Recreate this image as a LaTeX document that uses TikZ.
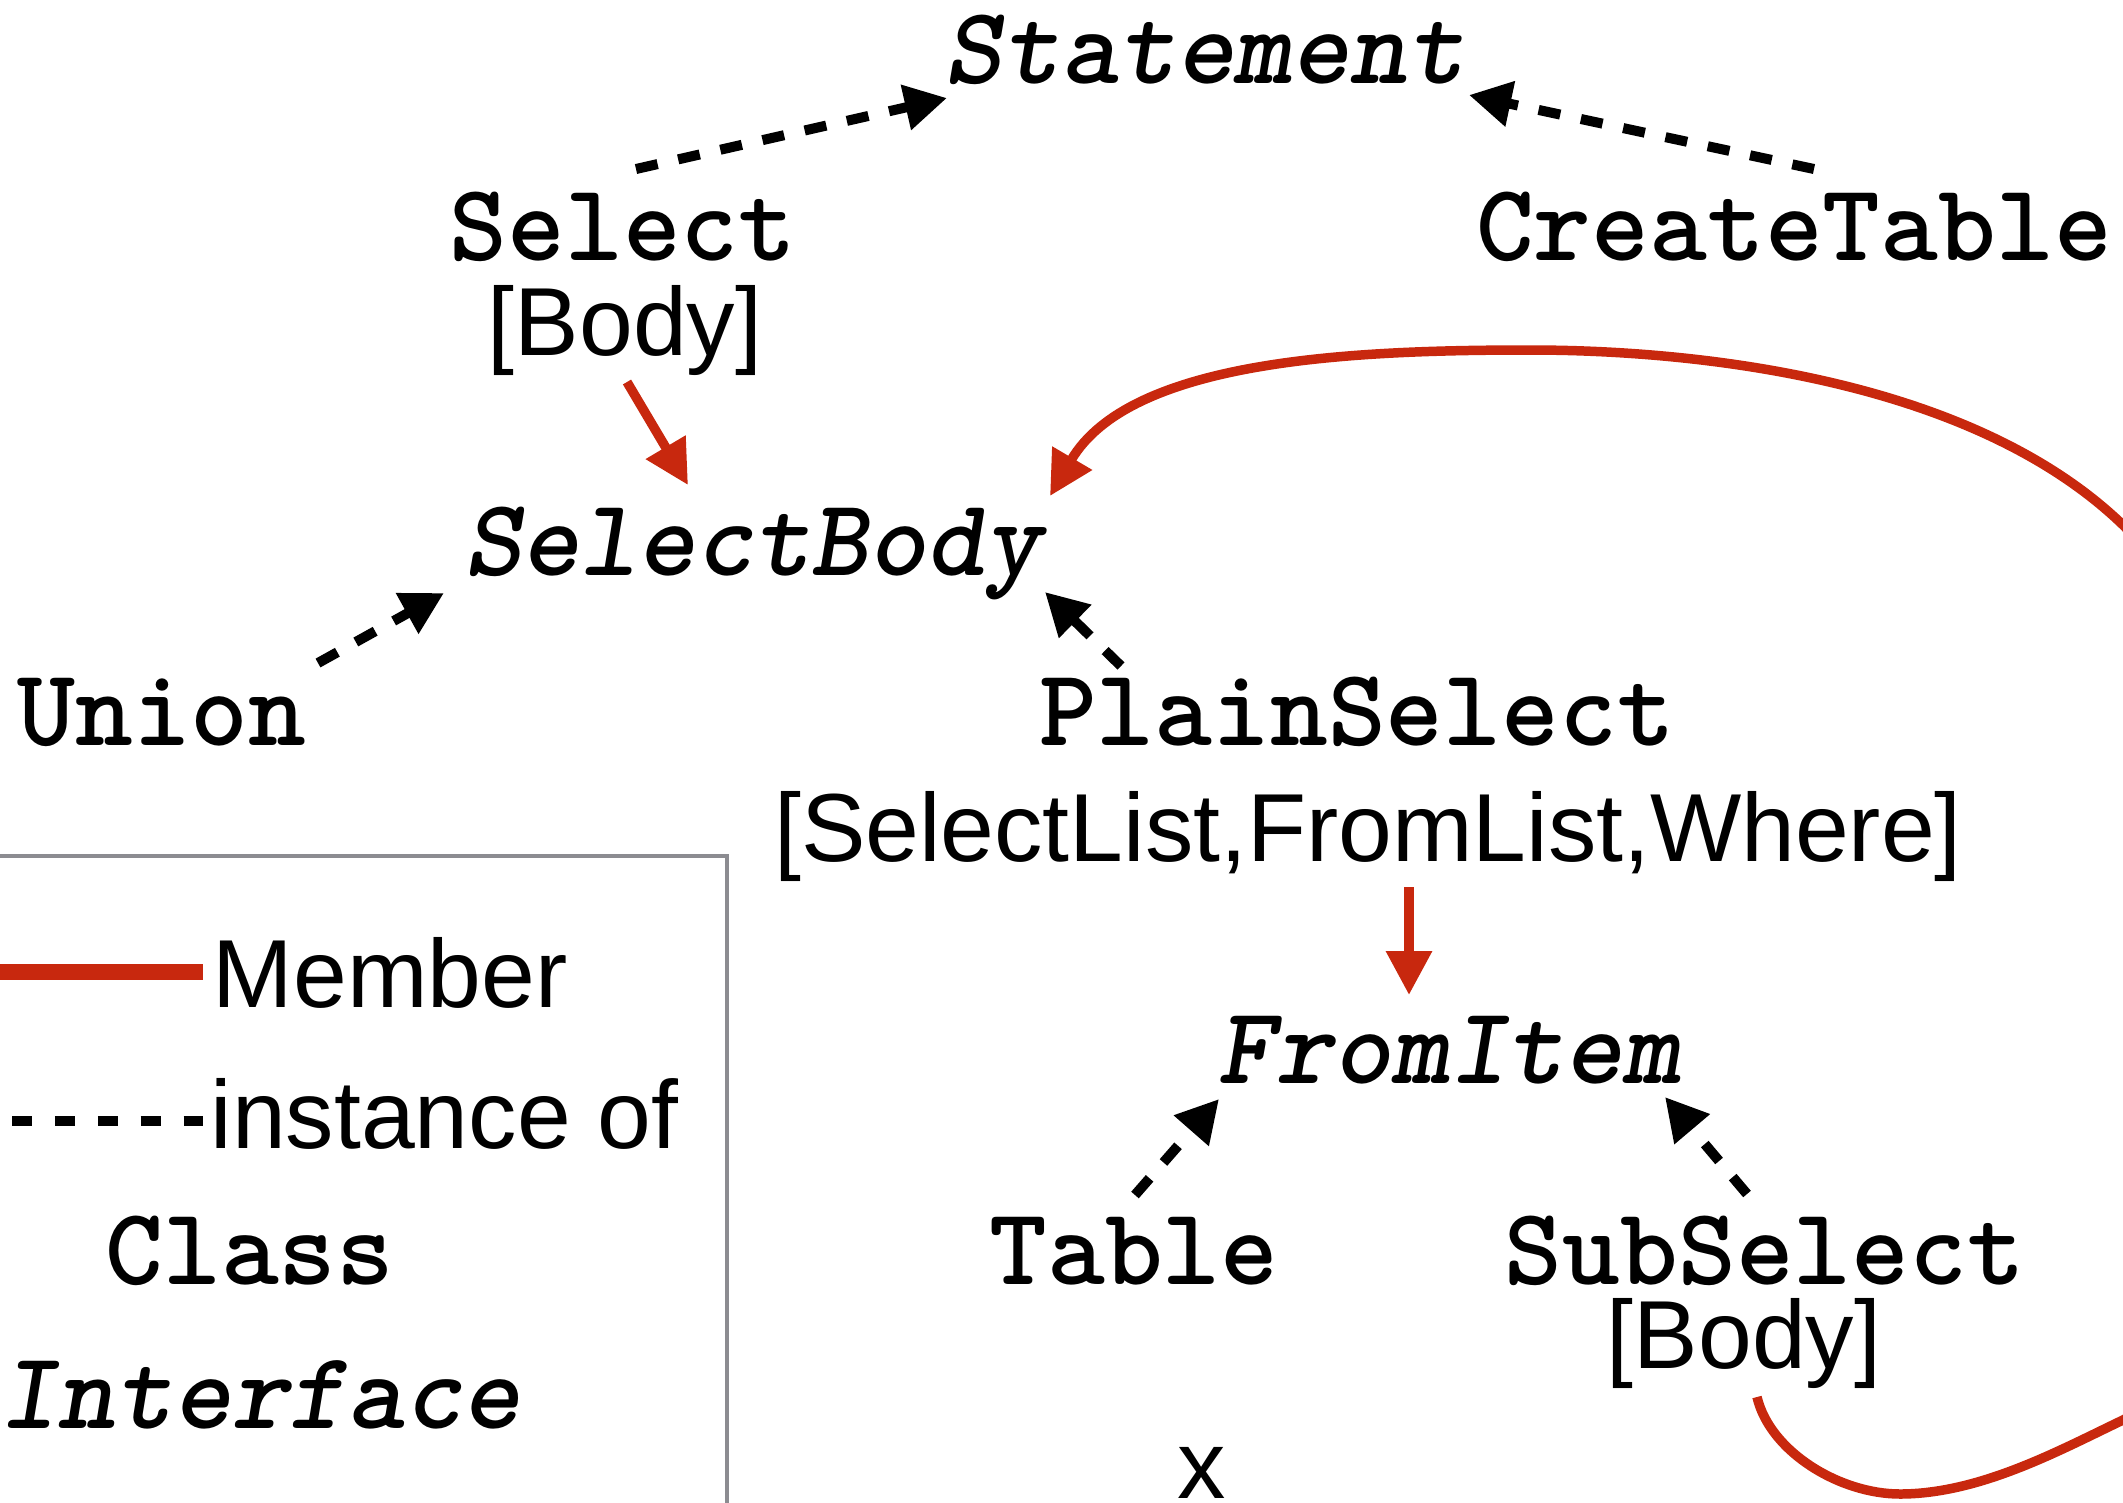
\documentclass[tikz,border=0pt]{standalone}
\usepackage{fontspec}
\setmainfont{Liberation Sans}
\newfontfamily\codefont{lmmonolt10}[Extension=.otf,UprightFont=*-regular,
  BoldFont=*-bold,ItalicFont=*-oblique,BoldItalicFont=*-boldoblique]
\usetikzlibrary{arrows.meta,calc}
\definecolor{memred}{RGB}{200,40,14}
\definecolor{boxgray}{RGB}{140,140,145}
\begin{document}
\begin{tikzpicture}[x=0.01cm,y=-0.01cm,
  cls/.style={anchor=base,inner sep=0pt,font=\fontsize{31.3}{34}\selectfont\codefont\bfseries},
  iface/.style={anchor=base,inner sep=0pt,font=\fontsize{31.3}{34}\selectfont\codefont\bfseries\itshape},
  note/.style={anchor=base,inner sep=0pt,font=\fontsize{27.5}{32}\selectfont},
  inst/.style={draw=black,line width=2.85pt,dash pattern=on 6.3pt off 6pt,
    -{Triangle[length=12pt,width=12.5pt]}},
  memb/.style={draw=memred,line width=2.7pt,
    -{Triangle[length=12.5pt,width=12.5pt]}}]
\useasboundingbox (0,0) rectangle (2123,1502);
\clip (0,0) rectangle (2123,1502);

% class hierarchy
\node[iface] (stmt)   at (1205,83)   {Statement};
\node[cls]   (sel)    at (623,260)   {Select};
\node[note]  (selb)   at (625,355)   {[Body]};
\node[cls]   (ct)     at (1794,260)  {CreateTable};
\node[iface] (sbody)  at (753,575)   {SelectBody};
\node[cls]   (union)  at (162,745)   {Union};
\node[cls]   (plain)  at (1357,745)  {PlainSelect};
\node[note]  (fields) at (1368,861)  {[SelectList,FromList,Where]};
\node[iface] (fitem)  at (1449,1083) {FromItem};
\node[cls]   (table)  at (1134,1284) {Table};
\node[cls]   (sub)    at (1765,1284) {SubSelect};
\node[note]  (subb)   at (1744,1368) {[Body]};
\node[note]  (xmark)  at (1202,1498) {x};

% instance-of links
\draw[inst] ($(sel.base)+(13,-91)$)    -- ($(stmt.base)+(-258,15)$);
\draw[inst] ($(ct.base)+(20,-91)$)     -- ($(stmt.base)+(264,12)$);
\draw[inst] ($(union.base)+(156,-82)$) -- ($(sbody.base)+(-309,18)$);
\draw[inst] ($(plain.base)+(-236,-79)$) -- ($(sbody.base)+(292,17)$);
\draw[inst] ($(table.base)+(1,-89)$)   -- ($(fitem.base)+(-230,16)$);
\draw[inst] ($(sub.base)+(-18,-90)$)   -- ($(fitem.base)+(216,14)$);

% member links
\draw[memb] ($(selb.base)+(2,27)$)    -- ($(sbody.base)+(-65,-90)$);
\draw[memb] ($(fields.base)+(41,26)$) -- ($(fitem.base)+(-40,-88)$);
\draw[memb] ($(subb.base)+(13,29)$)
  .. controls (1770,1452) and (1840,1494) .. (1900,1494)
  .. controls (1980,1494) and (2060,1450) .. (2123,1420)
  .. controls (2345,1300) and (2300,700) .. (2123,525)
  .. controls (1973,380) and (1700,350) .. (1530,350)
  .. controls (1350,350) and (1130,360) .. ($(sbody.base)+(297,-79)$);

% legend
\draw[boxgray,line width=1.2pt] (-20,856) rectangle (727,1540);
\coordinate (mline0) at (-5,972);
\coordinate (mline1) at (203,972);
\draw[memred,line width=4.8pt] (mline0) -- (mline1);
\node[note,anchor=base west] (lmember) at (212,1007) {Member};
\coordinate (iline0) at (12,1121);
\coordinate (iline1) at (203,1121);
\draw[line width=3.1pt,dash pattern=on 5.7pt off 6.5pt] (iline0) -- (iline1);
\node[note,anchor=base west] (linst) at (210,1148) {instance of};
\node[cls]   (lclass) at (250,1284) {Class};
\node[iface] (liface) at (260,1428) {Interface};
\end{tikzpicture}
\end{document}
